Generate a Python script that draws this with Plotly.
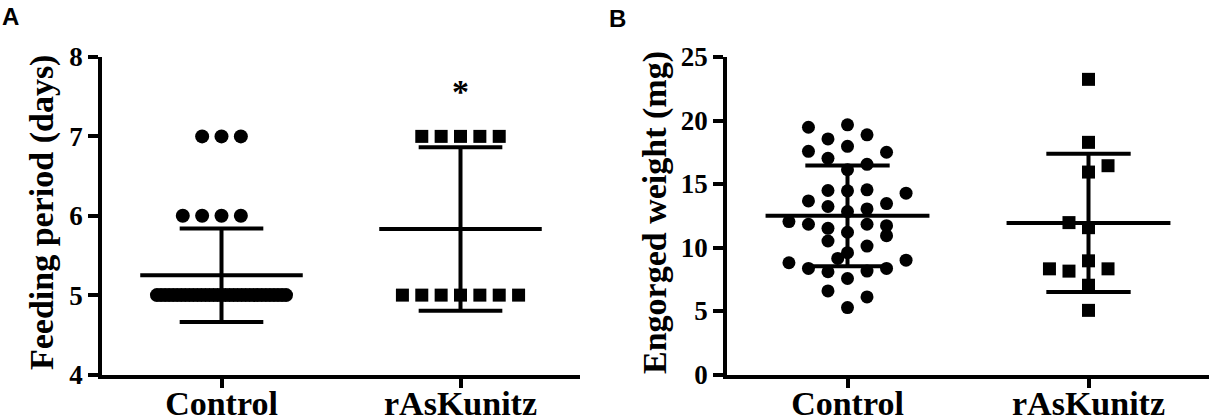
import numpy as np
import plotly.graph_objects as go

# ---------------- data ----------------
categories = ["Control", "rAsKunitz"]

# Panel A: feeding period (days) - distinct values and counts per group
feeding_values = [5, 6, 7]
feeding_counts_control = [33, 4, 3]
feeding_counts_rask = [7, 0, 5]

# Panel B: engorged weight (mg), with beeswarm column slot of each point
weight_control = [19.47, 19.66, 18.87, 18.55, 17.97, 17.57, 17.50, 17.02, 16.55, 16.13,
                  14.49, 14.46, 14.54, 14.28, 13.67, 13.46, 13.23, 13.04, 12.83, 12.04,
                  11.83, 11.51, 11.83, 11.72, 11.20, 10.93, 10.51, 10.11, 9.59, 9.14,
                  8.80, 9.00, 8.35, 8.09, 8.14, 8.35, 7.56, 6.58, 6.11, 5.27]
slot_control = [-2, 0, 1, -1, 0, -2, 2, -1, 1, 0,
                -1, 0, 1, 3, -2, 2, -1, 1, 0, -3,
                -2, -1, 1, 2, 0, 2, -1, 1, 0, -0.5,
                -3, 3, -2, -1, 1, 2, 0, -1, 1, 0]
weight_rask = [23.24, 18.28, 16.44, 15.94, 11.96, 11.56, 8.95, 8.32, 8.14, 8.32, 7.03, 5.05]
slot_rask = [0, 0, 1, 0, -1, 0, 0, -2, -1, 1, 0, 0]

# ---------------- style ----------------
W, H = 1210, 417
SERIF = "Liberation Serif"
SLOT = 0.081          # category units per column slot
ROW_HALF_MAX = 0.27   # max half width of a crowded row
MEAN_HALF = 0.34
CAP_HALF = 0.175
LW = 4

def row_layout(values, counts, center):
    xs, ys = [], []
    for v, n in zip(values, counts):
        if n == 0:
            continue
        half = n // 2
        step = SLOT if half == 0 else min(SLOT, ROW_HALF_MAX / half)
        for k in range(n):
            xs.append(center + (k - half) * step)
            ys.append(v)
    return xs, ys

fig = go.Figure()

def add_points(xs, ys, symbol, size, xa, ya):
    fig.add_trace(go.Scatter(x=xs, y=ys, mode="markers", xaxis=xa, yaxis=ya,
                             marker=dict(symbol=symbol, size=size, color="black",
                                         line=dict(width=0)),
                             cliponaxis=False, showlegend=False, hoverinfo="skip"))

def add_meansd(vals, center, xa, ya):
    vals = np.asarray(vals, dtype=float)
    m = vals.mean()
    s = vals.std(ddof=1)
    segs = [([center - MEAN_HALF, center + MEAN_HALF], [m, m]),
            ([center, center], [m - s, m + s]),
            ([center - CAP_HALF, center + CAP_HALF], [m + s, m + s]),
            ([center - CAP_HALF, center + CAP_HALF], [m - s, m - s])]
    for xs, ys in segs:
        fig.add_trace(go.Scatter(x=xs, y=ys, mode="lines", xaxis=xa, yaxis=ya,
                                 line=dict(color="black", width=LW),
                                 cliponaxis=False, showlegend=False, hoverinfo="skip"))

# Panel A
xa, ya = row_layout(feeding_values, feeding_counts_control, 0)
add_points(xa, ya, "circle", 14, "x", "y")
xb, yb = row_layout(feeding_values, feeding_counts_rask, 1)
add_points(xb, yb, "square", 13, "x", "y")
add_meansd(np.repeat(feeding_values, feeding_counts_control), 0, "x", "y")
add_meansd(np.repeat(feeding_values, feeding_counts_rask), 1, "x", "y")

# Panel B
add_points([0 + s * SLOT for s in slot_control], weight_control, "circle", 13, "x2", "y2")
add_points([1 + s * SLOT for s in slot_rask], weight_rask, "square", 13, "x2", "y2")
add_meansd(weight_control, 0, "x2", "y2")
add_meansd(weight_rask, 1, "x2", "y2")

# ---------------- layout ----------------
def px_x(p):
    return p / W

def px_y(p):
    return (H - p) / H

ydom = [px_y(374.5), px_y(57)]

common_x = dict(range=[-0.5, 1.5], tickvals=[0, 1], ticktext=categories,
                showgrid=False, zeroline=False, showline=True, linecolor="black",
                linewidth=3.5, ticks="outside", ticklen=10, tickwidth=3.5, tickcolor="black",
                tickfont=dict(family=SERIF, size=34, color="black", weight="bold"),
                ticklabelstandoff=-14, automargin=False, fixedrange=True)
common_y = dict(showgrid=False, zeroline=False, showline=True, linecolor="black",
                linewidth=3.5, ticks="outside", ticklen=10, tickwidth=3.5, tickcolor="black",
                tickfont=dict(family=SERIF, size=27, color="black", weight="bold"),
                domain=ydom, automargin=False, fixedrange=True)

fig.update_layout(
    width=W, height=H,
    margin=dict(l=0, r=0, t=0, b=0, pad=0, autoexpand=False),
    paper_bgcolor="white", plot_bgcolor="white",
    xaxis=dict(common_x, domain=[px_x(102), px_x(580)], anchor="y"),
    yaxis=dict(common_y, range=[4, 8], tickvals=[4, 5, 6, 7, 8], anchor="x"),
    xaxis2=dict(common_x, domain=[px_x(727), px_x(1209)], anchor="y2"),
    yaxis2=dict(common_y, range=[0, 25], tickvals=[0, 5, 10, 15, 20, 25], anchor="x2"),
    annotations=[
        dict(text="Feeding period (days)", textangle=-90, xref="paper", yref="paper",
             x=px_x(42), y=px_y(213), xanchor="center", yanchor="middle", showarrow=False,
             font=dict(family=SERIF, size=34, color="black", weight="bold")),
        dict(text="Engorged weight (mg)", textangle=-90, xref="paper", yref="paper",
             x=px_x(655), y=px_y(213), xanchor="center", yanchor="middle", showarrow=False,
             font=dict(family=SERIF, size=34, color="black", weight="bold")),
        dict(text="A", xref="paper", yref="paper", x=px_x(0), y=px_y(1),
             xanchor="left", yanchor="top", showarrow=False,
             font=dict(family="Liberation Sans", size=24, color="black", weight="bold")),
        dict(text="B", xref="paper", yref="paper", x=px_x(607), y=px_y(3),
             xanchor="left", yanchor="top", showarrow=False,
             font=dict(family="Liberation Sans", size=24, color="black", weight="bold")),
        dict(text="*", xref="x", yref="y", x=1, y=7.56, xanchor="center", yanchor="middle",
             showarrow=False, font=dict(family=SERIF, size=34, color="black", weight="bold")),
    ],
)

fig.write_html("out.html", config={"displayModeBar": False},
               post_script="document.body.style.margin='0';document.body.style.overflow='hidden';")
